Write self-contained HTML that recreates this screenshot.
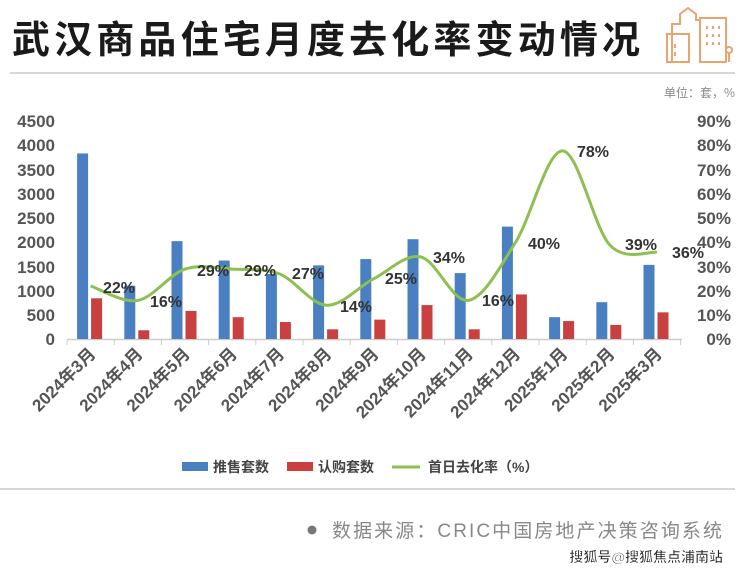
<!DOCTYPE html>
<html><head><meta charset="utf-8"><style>
html,body{margin:0;padding:0;background:#fff;}
svg{display:block;font-family:"Liberation Sans","Noto Sans CJK SC",sans-serif;}
</style></head><body>
<svg width="740" height="572" viewBox="0 0 740 572">
<text x="12" y="53" font-size="38" font-weight="bold" fill="#1a1a1a" font-family="'Noto Sans CJK SC',sans-serif" textLength="628">武汉商品住宅月度去化率变动情况</text>
<g fill="none" stroke="#e8a572" stroke-width="2">
<path d="M672 62 V24 h8 v-10 l8 -6 l8 6 v6 h4 v14"/>
<rect x="667" y="34" width="22" height="28"/>
<rect x="700" y="18" width="26" height="44"/>
<path d="M675 44 v4 M675 52 v4 M707 26 v3 M713 26 v3 M719 26 v3 M707 34 v3 M713 34 v3 M719 34 v3 M707 42 v3 M713 42 v3 M719 42 v3 M729 52 v10"/>
<circle cx="729" cy="50" r="3"/>
</g>
<line x1="10" y1="73" x2="735" y2="73" stroke="#ccc" stroke-width="1.5"/>
<text x="735" y="97" font-size="12" fill="#888" text-anchor="end" font-family="'Noto Sans CJK SC',sans-serif">单位：套，%</text>
<g font-size="17" font-weight="bold" fill="#555" text-anchor="end">
<text x="55" y="127">4500</text><text x="55" y="151">4000</text><text x="55" y="176">3500</text><text x="55" y="200">3000</text><text x="55" y="224">2500</text><text x="55" y="248">2000</text><text x="55" y="273">1500</text><text x="55" y="297">1000</text><text x="55" y="321">500</text><text x="55" y="345">0</text>
</g>
<g font-size="17" font-weight="bold" fill="#555" text-anchor="end">
<text x="731" y="127">90%</text><text x="731" y="151">80%</text><text x="731" y="176">70%</text><text x="731" y="200">60%</text><text x="731" y="224">50%</text><text x="731" y="248">40%</text><text x="731" y="273">30%</text><text x="731" y="297">20%</text><text x="731" y="321">10%</text><text x="731" y="345">0%</text>
</g>
<line x1="67" y1="339.5" x2="682" y2="339.5" stroke="#ccc" stroke-width="1.5"/>
<g id="bars"></g>
<g id="ticks" stroke="#ccc"></g>
<path id="ln" fill="none" stroke="#8cc152" stroke-width="3"/>
<g font-size="16" font-weight="bold" fill="#333">
<text x="103" y="293">22%</text><text x="150" y="307">16%</text><text x="197" y="276">29%</text><text x="244" y="276">29%</text><text x="292" y="279">27%</text><text x="340" y="312">14%</text><text x="385" y="284">25%</text><text x="433" y="263">34%</text><text x="482" y="306">16%</text><text x="528" y="249">40%</text><text x="577" y="157">78%</text><text x="625" y="250">39%</text><text x="672" y="258">36%</text>
</g>
<g id="xl" font-size="17" font-weight="bold" fill="#555" text-anchor="end"></g>
<rect x="182" y="462" width="26" height="9" fill="#4a7fc1"/>
<text x="213" y="472" font-size="14" font-weight="bold" fill="#444">推售套数</text>
<rect x="287" y="462" width="26" height="9" fill="#c94040"/>
<text x="318" y="472" font-size="14" font-weight="bold" fill="#444">认购套数</text>
<line x1="392" y1="467" x2="420" y2="467" stroke="#8cc152" stroke-width="3"/>
<text x="428" y="472" font-size="14" font-weight="bold" fill="#444">首日去化率（%）</text>
<line x1="0" y1="489" x2="735" y2="489" stroke="#ccc" stroke-width="1.5"/>
<circle cx="312" cy="530" r="4.5" fill="#777"/>
<text x="332" y="537" font-size="19" fill="#888" textLength="390">数据来源：CRIC中国房地产决策咨询系统</text>
<text x="723" y="562" font-size="14" font-weight="bold" fill="#222" stroke="#fff" stroke-width="0.6" text-anchor="end">搜狐号@搜狐焦点浦南站</text>
</svg>
<script>
var blue=[3830,1100,2020,1620,1340,1520,1650,2060,1360,2320,450,760,1530];
var red=[840,180,580,450,350,200,400,700,200,920,370,290,550];
var pct=[22,16,29,29,27,14,25,34,16,40,78,39,36];
var lab=["2024年3月","2024年4月","2024年5月","2024年6月","2024年7月","2024年8月","2024年9月","2024年10月","2024年11月","2024年12月","2025年1月","2025年2月","2025年3月"];
var NS="http://www.w3.org/2000/svg";
function el(t,a,p){var e=document.createElementNS(NS,t);for(var k in a)e.setAttribute(k,a[k]);p.appendChild(e);return e;}
var g=document.getElementById('bars'),tk=document.getElementById('ticks'),xl=document.getElementById('xl');
var pts=[];
for(var i=0;i<13;i++){
 var cx=90.6+47.2*i;
 var hb=blue[i]/4500*218, hr=red[i]/4500*218;
 el('rect',{x:cx-13.5,y:339-hb,width:11,height:hb,fill:'#4a7fc1'},g);
 el('rect',{x:cx+0.5,y:339-hr,width:11,height:hr,fill:'#c94040'},g);
 el('line',{x1:67+47.2*i,y1:340,x2:67+47.2*i,y2:345},tk);
 var t=el('text',{x:cx+6,y:355,transform:'rotate(-45 '+(cx+6)+' 355)'},xl);t.textContent=lab[i];
 pts.push([cx,339-pct[i]/90*217]);
}
el('line',{x1:67+47.2*13,y1:340,x2:67+47.2*13,y2:345},tk);
var d='M'+pts[0][0]+' '+pts[0][1];
for(var i=0;i<pts.length-1;i++){
 var p0=pts[i-1]||pts[i],p1=pts[i],p2=pts[i+1],p3=pts[i+2]||p2;
 var c1=[p1[0]+(p2[0]-p0[0])/6,p1[1]+(p2[1]-p0[1])/6],c2=[p2[0]-(p3[0]-p1[0])/6,p2[1]-(p3[1]-p1[1])/6];
 d+=' C'+c1+' '+c2+' '+p2;
}
document.getElementById('ln').setAttribute('d',d);
</script>
</body></html>
